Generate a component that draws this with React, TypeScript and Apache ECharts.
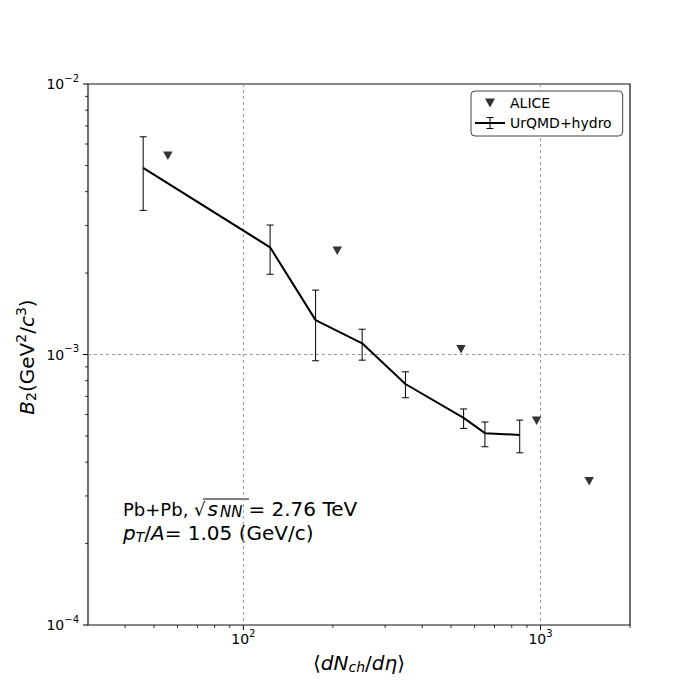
import React, { useEffect, useRef } from "react";
import * as echarts from "echarts";

// ---- data ----
const urqmdX = [46, 123, 175, 251, 351, 551, 650, 851];
const urqmdY = [4.9e-3, 2.49e-3, 1.34e-3, 1.1e-3, 7.78e-4, 5.83e-4, 5.12e-4, 5.04e-4];
const urqmdLow = [3.41e-3, 1.98e-3, 9.48e-4, 9.53e-4, 6.92e-4, 5.33e-4, 4.56e-4, 4.33e-4];
const urqmdHigh = [6.38e-3, 3.01e-3, 1.73e-3, 1.24e-3, 8.63e-4, 6.29e-4, 5.63e-4, 5.72e-4];

const aliceX = [55.7, 207, 540, 970, 1458];
const aliceY = [5.43e-3, 2.42e-3, 1.045e-3, 5.69e-4, 3.4e-4];

const X_MIN = 30;
const X_MAX = 2000;
const Y_MIN = 1e-4;
const Y_MAX = 1e-2;

const xMajorTicks = [100, 1000];
const xMajorExp = ["2", "3"];
const xMinorTicks = [40, 50, 60, 70, 80, 90, 200, 300, 400, 500, 600, 700, 800, 900, 2000];
const yMajorTicks = [1e-4, 1e-3, 1e-2];
const yMajorExp = ["\u22124", "\u22123", "\u22122"];
const yMinorTicks = [2e-4, 3e-4, 4e-4, 5e-4, 6e-4, 7e-4, 8e-4, 9e-4, 2e-3, 3e-3, 4e-3, 5e-3, 6e-3, 7e-3, 8e-3, 9e-3];
const xGridLines = [100, 1000];
const yGridLines = [1e-3];

const FONT = "DejaVu Sans";

const triIcon =
  "path://M0,0L0.01,0L0,0.01ZM10,2.5L20,2.5L15,11.5ZM30,14L29.99,14L30,13.99Z";
const ebIcon =
  "path://M0,6L30,6L30,8L0,8ZM14.5,1L15.5,1L15.5,13L14.5,13ZM11.5,1L18.5,1L18.5,2L11.5,2ZM11.5,12L18.5,12L18.5,13L11.5,13Z";

const tickRich = {
  b: { fontSize: 14, fontFamily: FONT, fill: "#000" },
  s: { fontSize: 10, fontFamily: FONT, fill: "#000", padding: [0, 0, 12, 0] },
};

function mkRich(size: number) {
  const s = Math.round(size * 0.7);
  return {
    n: { fontSize: size, fontFamily: FONT, fill: "#000", lineHeight: size + 4 },
    m: { fontSize: size - 2, fontFamily: FONT, fill: "#000", lineHeight: size + 4 },
    i: { fontSize: size, fontFamily: FONT, fontStyle: "italic", fill: "#000", lineHeight: size + 4 },
    si: { fontSize: size, fontFamily: FONT, fontStyle: "italic", fill: "#000", lineHeight: size + 4, padding: [0, 1, 0, 2] },
    sub: { fontSize: s, fontFamily: FONT, fill: "#000", lineHeight: s, padding: [8, 0, 0, 0] },
    subi: { fontSize: s, fontFamily: FONT, fontStyle: "italic", fill: "#000", lineHeight: s, padding: [8, 0, 0, 0] },
    nn: { fontSize: s + 1, fontFamily: FONT, fontStyle: "italic", fill: "#000", lineHeight: s, padding: [6, 6, 0, 1] },
    sup: { fontSize: s, fontFamily: FONT, fill: "#000", lineHeight: s, padding: [0, 0, 13, 0] },
  };
}

export default function App() {
  const ref = useRef<HTMLDivElement>(null);
  useEffect(() => {
    if (!ref.current) return;
    const chart = echarts.init(ref.current, undefined, { renderer: "svg" });

    const decoRender = (_params: any, api: any) => {
      const children: any[] = [];
      const pb = api.coord([X_MIN, Y_MIN]);
      const pt = api.coord([X_MAX, Y_MAX]);
      const left = pb[0];
      const bottom = pb[1];
      const right = pt[0];
      const top = pt[1];
      const gridStyle = { stroke: "#9a9a9a", lineWidth: 1, lineDash: [3, 3] };
      xGridLines.forEach((v) => {
        const p = api.coord([v, Y_MIN]);
        children.push({ type: "line", shape: { x1: p[0], y1: top, x2: p[0], y2: bottom }, style: gridStyle });
      });
      yGridLines.forEach((v) => {
        const p = api.coord([X_MIN, v]);
        children.push({ type: "line", shape: { x1: left, y1: p[1], x2: right, y2: p[1] }, style: gridStyle });
      });
      xMajorTicks.forEach((v, i) => {
        const p = api.coord([v, Y_MIN]);
        children.push({ type: "line", shape: { x1: p[0], y1: bottom, x2: p[0], y2: bottom + 5 }, style: { stroke: "#000", lineWidth: 1 } });
        children.push({
          type: "text",
          style: { text: `{b|10}{s|${xMajorExp[i]}}`, x: p[0], y: bottom + 14, align: "center", verticalAlign: "middle", rich: tickRich },
        });
      });
      xMinorTicks.forEach((v) => {
        const p = api.coord([v, Y_MIN]);
        children.push({ type: "line", shape: { x1: p[0], y1: bottom, x2: p[0], y2: bottom + 3 }, style: { stroke: "#000", lineWidth: 0.8 } });
      });
      yMajorTicks.forEach((v, i) => {
        const p = api.coord([X_MIN, v]);
        children.push({ type: "line", shape: { x1: left, y1: p[1], x2: left - 5, y2: p[1] }, style: { stroke: "#000", lineWidth: 1 } });
        children.push({
          type: "text",
          style: { text: `{b|10}{s|${yMajorExp[i]}}`, x: left - 9, y: p[1], align: "right", verticalAlign: "middle", rich: tickRich },
        });
      });
      yMinorTicks.forEach((v) => {
        const p = api.coord([X_MIN, v]);
        children.push({ type: "line", shape: { x1: left, y1: p[1], x2: left - 3, y2: p[1] }, style: { stroke: "#000", lineWidth: 0.8 } });
      });
      return { type: "group", children };
    };

    const ebRender = (_params: any, api: any) => {
      const x = api.value(0);
      const lo = api.value(1);
      const hi = api.value(2);
      const t = api.coord([x, hi]);
      const b = api.coord([x, lo]);
      const cw = 3.5;
      const st = { stroke: "#000", lineWidth: 1 };
      return {
        type: "group",
        children: [
          { type: "line", shape: { x1: t[0], y1: t[1], x2: b[0], y2: b[1] }, style: st },
          { type: "line", shape: { x1: t[0] - cw, y1: t[1], x2: t[0] + cw, y2: t[1] }, style: st },
          { type: "line", shape: { x1: b[0] - cw, y1: b[1], x2: b[0] + cw, y2: b[1] }, style: st },
        ],
      };
    };

    const big = mkRich(20);

    const option: any = {
      animation: false,
      backgroundColor: "#fff",
      grid: { left: 88, top: 84, width: 542, height: 541, show: true, borderColor: "#111", borderWidth: 1.2, backgroundColor: "transparent" },
      xAxis: {
        type: "log",
        logBase: 10,
        min: X_MIN,
        max: X_MAX,
        axisLine: { show: false },
        axisTick: { show: false },
        axisLabel: { show: false },
        splitLine: { show: false },
      },
      yAxis: {
        type: "log",
        logBase: 10,
        min: Y_MIN,
        max: Y_MAX,
        axisLine: { show: false },
        axisTick: { show: false },
        axisLabel: { show: false },
        splitLine: { show: false },
      },
      legend: {
        orient: "vertical",
        left: 471,
        top: 91,
        padding: [5, 11, 6, 4],
        itemWidth: 30,
        itemHeight: 14,
        itemGap: 6,
        borderColor: "#444",
        borderWidth: 1,
        borderRadius: 4,
        backgroundColor: "#fff",
        selectedMode: false,
        itemStyle: { borderWidth: 0 },
        textStyle: { fontFamily: FONT, fontSize: 14, color: "#000" },
        data: [
          { name: "ALICE", icon: triIcon },
          { name: "UrQMD+hydro", icon: ebIcon },
        ],
      },
      series: [
        {
          type: "custom",
          name: "axes",
          z: 1,
          silent: true,
          renderItem: decoRender,
          data: [[100, 1e-3]],
        },
        {
          type: "custom",
          name: "UrQMD+hydro errors",
          z: 3,
          renderItem: ebRender,
          encode: { x: 0, y: [1, 2] },
          data: urqmdX.map((x, i) => [x, urqmdLow[i], urqmdHigh[i]]),
        },
        {
          type: "line",
          name: "UrQMD+hydro",
          z: 4,
          color: "#000",
          showSymbol: false,
          symbol: "none",
          lineStyle: { color: "#000", width: 2 },
          itemStyle: { color: "#000" },
          data: urqmdX.map((x, i) => [x, urqmdY[i]]),
        },
        {
          type: "scatter",
          name: "ALICE",
          z: 5,
          color: "#000",
          symbol: "path://M0,0L10,0L5,9Z",
          symbolSize: [9.5, 8.5],
          itemStyle: { color: "#000" },
          data: aliceX.map((x, i) => [x, aliceY[i]]),
        },
      ],
      graphic: [
        {
          type: "text",
          x: 27,
          y: 357,
          rotation: Math.PI / 2,
          style: {
            text: "{i|B}{sub|2}{n|(GeV}{sup|2}{n|/}{i|c}{sup|3}{n|)}",
            align: "center",
            verticalAlign: "middle",
            rich: big,
          },
        },
        {
          type: "text",
          x: 359,
          y: 663,
          style: {
            text: "{n|\u27E8}{i|dN}{subi|ch}{n|/}{i|d\u03B7}{n|\u27E9}",
            align: "center",
            verticalAlign: "middle",
            rich: big,
          },
        },
        {
          type: "text",
          x: 123,
          y: 521,
          style: {
            text: "{m|Pb+Pb, \u221A}{si|s}{nn|NN}{n|= 2.76 TeV}\n{i|p}{subi|T}{n|/}{i|A}{n|= 1.05 (GeV/c)}",
            align: "left",
            verticalAlign: "middle",
            rich: big,
          },
        },
        {
          type: "line",
          shape: { x1: 203, y1: 499, x2: 249, y2: 499 },
          style: { stroke: "#000", lineWidth: 1 },
        },
      ],
    };
    chart.setOption(option);
    return () => chart.dispose();
  }, []);

  return (
    <div style={{ position: "absolute", left: 0, top: 0, width: 700, height: 700, background: "#fff" }}>
      <div ref={ref} style={{ width: 700, height: 700 }} />
    </div>
  );
}
